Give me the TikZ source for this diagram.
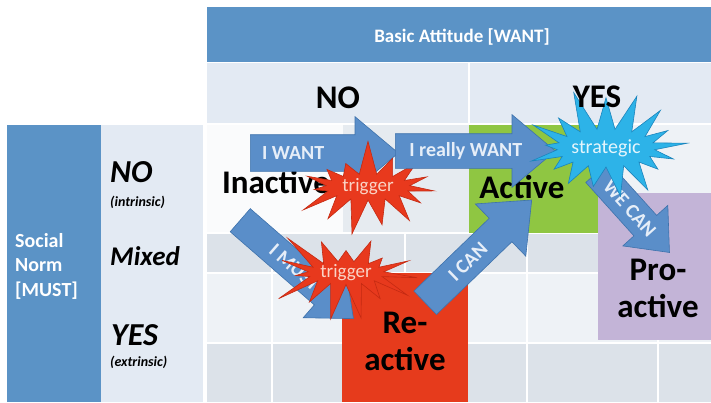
\documentclass[tikz,border=0pt]{standalone}
\usepackage{fontspec}
\setmainfont{Carlito}
\usetikzlibrary{shapes.arrows,shapes.symbols,positioning,calc}

\definecolor{barblue}{HTML}{5B93C6}
\definecolor{panelblue}{HTML}{E3EAF3}
\definecolor{cellwhite}{HTML}{FAFBFC}
\definecolor{cellpale}{HTML}{EEF2F6}
\definecolor{cellgray}{HTML}{DCE2E9}
\definecolor{cellmid}{HTML}{E6EBF0}
\definecolor{actgreen}{HTML}{8FC642}
\definecolor{reactred}{HTML}{E63B1C}
\definecolor{proviolet}{HTML}{C3B4D7}
\definecolor{arrowblue}{HTML}{5A8EC9}
\definecolor{arrowedge}{HTML}{3E72AC}
\definecolor{arrowtxt}{HTML}{E6EEF8}
\definecolor{trigred}{HTML}{E8391D}
\definecolor{trigedge}{HTML}{C42A12}
\definecolor{trigtxt}{HTML}{FAD4C6}
\definecolor{stratblue}{HTML}{2DB3E8}
\definecolor{stratedge}{HTML}{1B84BC}
\definecolor{strattxt}{HTML}{E4F5FC}

\newcommand{\fs}[1]{\fontsize{#1}{#1}\selectfont}

\begin{document}
\begin{tikzpicture}[x=1pt, y=-1pt,
  bigword/.style={font=\fs{33}\bfseries, inner sep=0pt, anchor=base},
  rowword/.style={font=\fs{#1}\bfseries\itshape, inner sep=0pt, anchor=base west},
  fatarrow/.style={single arrow, fill=arrowblue, draw=arrowedge, line width=0.6pt,
    inner xsep=0pt, minimum width=0pt, single arrow tip angle=80, anchor=tail},
  arrowtext/.style={font=\fs{20}\bfseries, text=arrowtxt, inner sep=0pt},
  burst/.style={starburst, starburst points=15, inner sep=0pt, line width=0.6pt},
  gridline/.style={white, line width=1.5pt}
]

  \useasboundingbox (0,0) rectangle (711,402);

  %% header
  \fill[barblue] (207,7) rectangle (711,62);
  \node[font=\fs{19}\bfseries, text=white] (attitude) at (462,37) {Basic Attitude [WANT]};
  \fill[panelblue] (207,63) rectangle (711,123);
  \draw[gridline] (469,63) -- (469,123);

  %% left columns
  \fill[barblue] (7,125) rectangle (101,402);
  \fill[panelblue] (101,125) rectangle (203,402);
  \node[font=\fontsize{20}{24.5}\selectfont\bfseries, text=white, align=left,
    anchor=north west, inner sep=0pt] (norm) at (15,233) {Social\\Norm\\{[MUST]}};

  \node[rowword=32] (rowno) at (110,182) {NO};
  \node[rowword=14] (intr) at (110,206) {(intrinsic)};
  \node[rowword=27] (rowmix) at (110,265) {Mixed};
  \node[rowword=32] (rowyes) at (111,345) {YES};
  \node[rowword=14] (extr) at (110,366) {(extrinsic)};

  %% cells
  \fill[cellwhite] (207,125) rectangle (343,233);
  \fill[cellmid] (343,125) rectangle (469,233);
  \fill[cellpale] (598,125) rectangle (711,193);
  \fill[cellgray] (207,233) rectangle (711,273);
  \fill[cellpale] (207,273) rectangle (711,343);
  \fill[cellgray] (207,343) rectangle (711,402);
  \foreach \gx in {272,405,527,658}
    \draw[gridline] (\gx,233) -- (\gx,402);
  \foreach \gy in {233,273,343}
    \draw[gridline] (207,\gy) -- (711,\gy);

  %% blocks
  \fill[actgreen] (469,125) rectangle (598,233);
  \fill[reactred] (342,273) rectangle (468,402);
  \fill[proviolet] (598,193) rectangle (711,340);

  \node[bigword] (inact) at (276,193) {Inactive};
  \node[bigword] (re) at (405,333) {Re-};
  \node[bigword] (reactive) at (405,370) {active};
  \node[bigword] (pro) at (658,280) {Pro-};
  \node[bigword] (proactive) at (658,317) {active};

  %% arrows and triggers
  \node[fatarrow, inner ysep=18pt, single arrow head extend=18pt, minimum height=148pt] (iwant) at (250,153) {};
  \node[arrowtext] (iwantlbl) at ($(iwant.tail)!0.29!(iwant.tip)$) {I WANT};

  \node[fatarrow, rotate=-41, inner ysep=15pt, single arrow head extend=17pt, minimum height=150pt] (imust) at (240,220) {};
  \node[arrowtext, rotate=-41] (imustlbl) at ($(imust.tail)!0.48!(imust.tip)$) {I MUST};

  \node[burst, fill=trigred, draw=trigedge, minimum width=156pt, minimum height=98pt,
    starburst point height=36pt, random starburst=7, font=\fs{19}, text=trigtxt] (trigup) at (368,187) {trigger};
  \node[burst, fill=trigred, draw=trigedge, minimum width=160pt, minimum height=100pt,
    starburst point height=42pt, random starburst=23, font=\fs{19}, text=trigtxt] (triglow) at (346,273) {trigger};

  \node[fatarrow, rotate=44, inner ysep=16pt, single arrow head extend=20pt, minimum height=148pt] (ican) at (425,303) {};
  \node[arrowtext, rotate=44] (icanlbl) at ($(ican.tail)!0.40!(ican.tip)$) {I CAN};

  \node[bigword] (act) at (522,198) {Active};

  \node[fatarrow, inner ysep=17pt, single arrow head extend=19pt, minimum height=160pt] (ireally) at (395,151) {};
  \node[arrowtext] (ireallylbl) at ($(ireally.tail)!0.44!(ireally.tip)$) {I really WANT};

  \node[fatarrow, rotate=-48, inner ysep=15pt, single arrow head extend=15pt, minimum height=108pt] (wecan) at (597,172) {};
  \node[arrowtext, rotate=-48] (wecanlbl) at ($(wecan.tail)!0.45!(wecan.tip)$) {WE CAN};

  \node[burst, starburst points=17, fill=stratblue, draw=stratedge, minimum width=180pt, minimum height=122pt,
    starburst point height=42pt, random starburst=11, font=\fs{20}, text=strattxt] (strat) at (606,148) {strategic};

  %% column heads
  \node[bigword] (colno) at (338,108) {NO};
  \node[bigword] (colyes) at (597,107) {YES};
\end{tikzpicture}
\end{document}
